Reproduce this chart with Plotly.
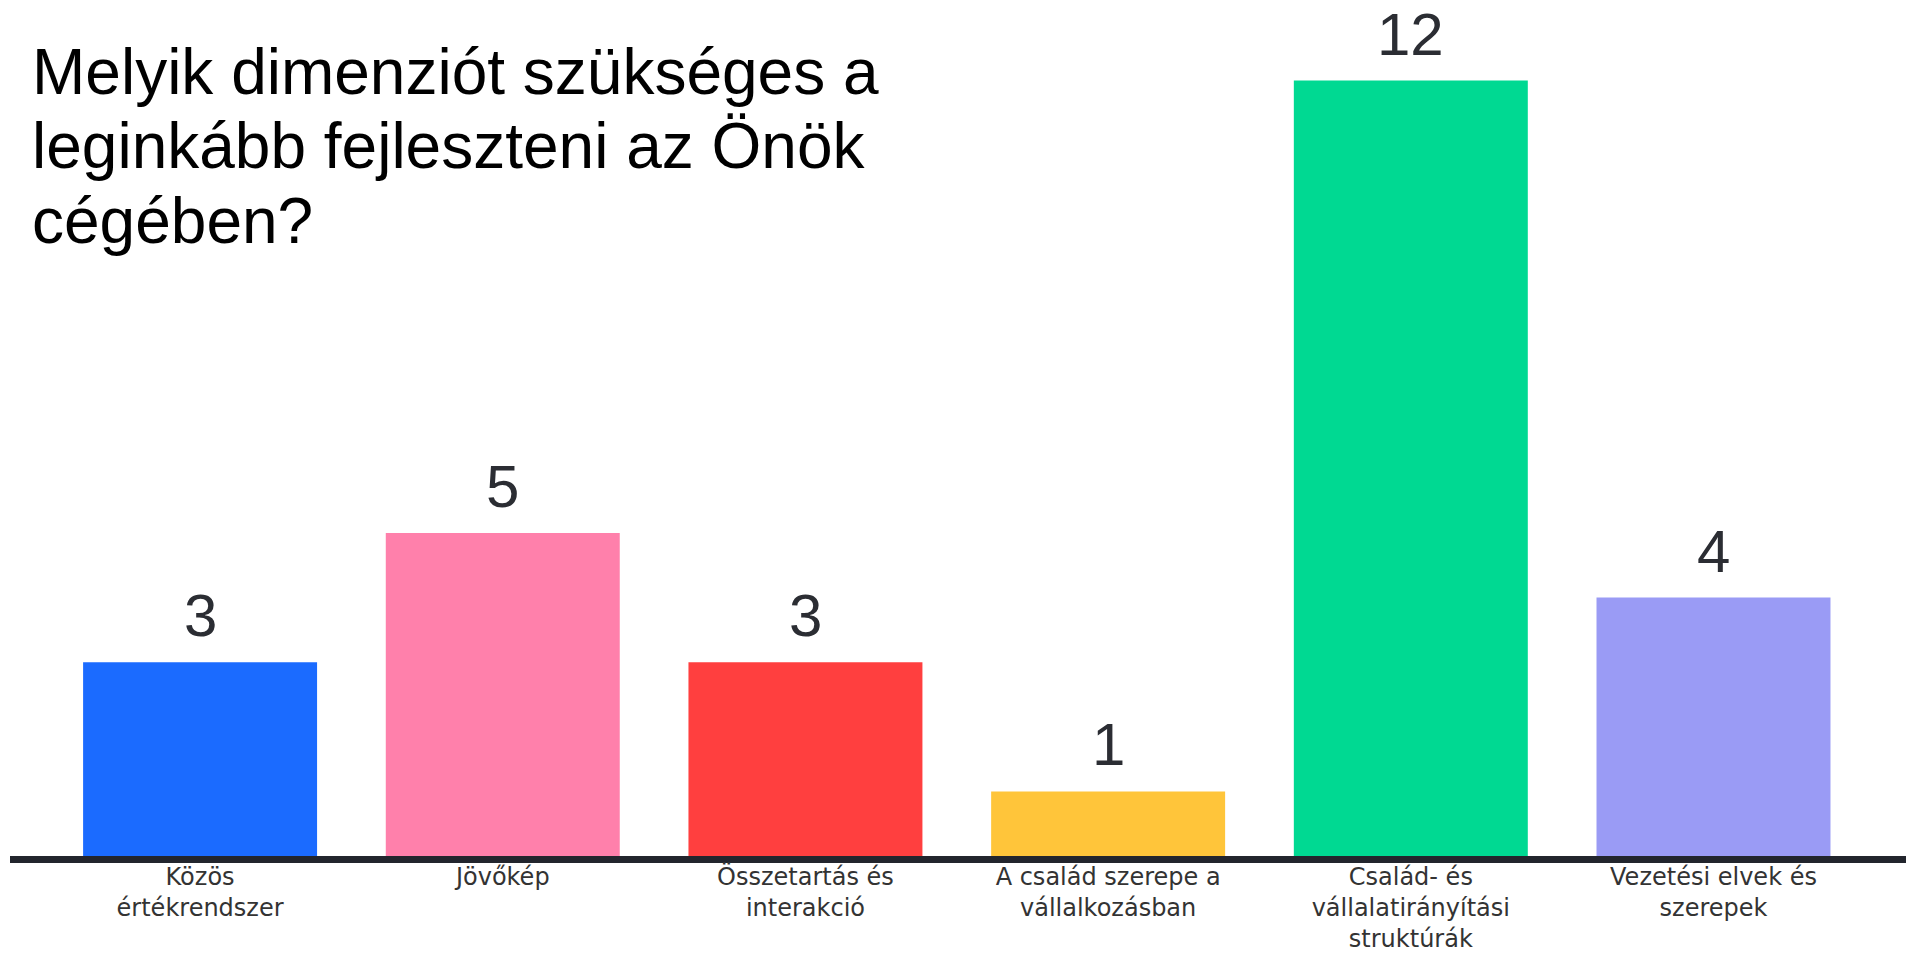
import plotly.graph_objects as go

categories = [
    "Közös<br>értékrendszer",
    "Jövőkép",
    "Összetartás és<br>interakció",
    "A család szerepe a<br>vállalkozásban",
    "Család- és<br>vállalatirányítási<br>struktúrák",
    "Vezetési elvek és<br>szerepek",
]
values = [3, 5, 3, 1, 12, 4]
colors = ["#1B6BFF", "#FF80AB", "#FF3F3F", "#FFC53A", "#00D992", "#9A9BF5"]
title_lines = [
    "Melyik dimenziót szükséges a",
    "leginkább fejleszteni az Önök",
    "cégében?",
]

xs = list(range(len(categories)))

fig = go.Figure()
fig.add_trace(go.Bar(
    x=xs,
    y=values,
    marker=dict(color=colors, line=dict(width=0)),
    width=0.773,
    hoverinfo="skip",
))

annotations = []
# value labels above bars
for xi, v in zip(xs, values):
    annotations.append(dict(
        x=xi, y=v, xref="x", yref="y",
        text=str(v), showarrow=False,
        xanchor="center", yanchor="bottom", yshift=11,
        font=dict(family="Liberation Sans, Arial, sans-serif", size=60, color="#2B2D33"),
    ))
# title lines
title_y = [0.9786, 0.8905, 0.8012]
for line, ty in zip(title_lines, title_y):
    annotations.append(dict(
        text=line, xref="paper", yref="paper",
        x=0.0105, y=ty, xanchor="left", yanchor="top",
        align="left", showarrow=False,
        font=dict(family="Liberation Sans, Arial, sans-serif", size=64, color="#000000"),
    ))

fig.update_layout(
    width=1911, height=953,
    margin=dict(l=10, r=5, t=16, b=97, autoexpand=False),
    paper_bgcolor="white", plot_bgcolor="white",
    showlegend=False,
    xaxis=dict(
        range=[-0.628, 5.636],
        tickmode="array",
        tickvals=xs,
        ticktext=categories,
        ticks="",
        automargin=False,
        ticklabelstandoff=-7,
        showgrid=False, zeroline=False,
        showline=True, linecolor="#22252D", linewidth=7,
        tickfont=dict(family="DejaVu Sans, sans-serif", size=24, color="#333333"),
        fixedrange=True,
    ),
    yaxis=dict(
        range=[0, 13],
        visible=False,
        showgrid=False, zeroline=False,
        automargin=False,
        fixedrange=True,
    ),
    annotations=annotations,
)

fig.write_html("out.html")
